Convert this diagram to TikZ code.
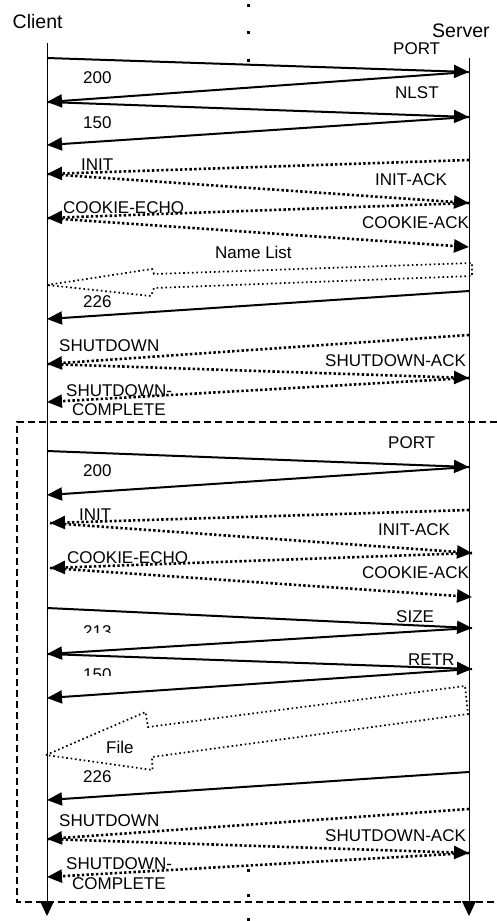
\documentclass[tikz,border=0pt]{standalone}
\usepackage{fontspec}
\setmainfont{Liberation Sans}
\usetikzlibrary{arrows.meta}
\begin{document}
\begin{tikzpicture}[x=1bp,y=-1bp,
  msg/.style={line width=2bp,-{Triangle[length=15bp,width=13bp]}},
  dmsg/.style={msg,line width=2.6bp,dash pattern=on 2.4bp off 2.3bp},
  life/.style={line width=1bp,-{Triangle[length=15bp,width=14bp]}},
  blk/.style={line width=1.7bp,dash pattern=on 1.6bp off 2.8bp},
  boxline/.style={line width=1.3bp,dash pattern=on 7bp off 4bp},
  lbl/.style={font=\fontsize{17bp}{20bp}\selectfont,inner sep=0,anchor=base west},
  hdr/.style={font=\fontsize{19.5bp}{22bp}\selectfont,inner sep=0,anchor=base west}]
\useasboundingbox (0,0) rectangle (497,921);

% headers
\node[hdr] (client) at (12.5,28) {Client};
\node[hdr] (server) at (432,37) {Server};

% lifelines
\coordinate (cTop) at (47,43);
\coordinate (cBot) at (47,916);
\coordinate (sTop) at (469,58);
\coordinate (sBot) at (469,916);
\draw[life] (cTop) -- (cBot);
\draw[life] (sTop) -- (sBot);

% dots
\foreach \yy in {5,32,60,870,895,919} \fill (246.5,\yy-1.5) rectangle ++(3,3);

% dashed box
\coordinate (bx1) at (497,422);
\coordinate (bx2) at (17,422);
\coordinate (bx3) at (17,902);
\coordinate (bx4) at (497,902);
\draw[boxline] (bx1) -- (bx2) -- (bx3) -- (bx4);

% ---------- section 1 ----------
\coordinate (p1) at (47,58);
\coordinate (p2) at (469,72);
\coordinate (p3) at (47,102);
\coordinate (p4) at (469,117);
\coordinate (p5) at (47,145);
\draw[msg] (p1) -- (p2);
\draw[msg] (p2) -- (p3);
\draw[msg] (p3) -- (p4);
\draw[msg] (p4) -- (p5);

\coordinate (q1) at (469,160);
\coordinate (q2) at (47,174);
\coordinate (q3) at (469,203);
\coordinate (q4) at (47,218);
\coordinate (q5) at (469,247);
\draw[dmsg] (q1) -- (q2);
\draw[dmsg] (q2) -- (q3);
\draw[dmsg] (q3) -- (q4);
\draw[dmsg] (q4) -- (q5);

\draw[blk] (47,285) -- (152,269) -- (154,274) -- (472,263) -- (472,276) -- (154,288) -- (151,296) -- cycle;

\coordinate (r1) at (469,291);
\coordinate (r2) at (47,319);
\draw[msg] (r1) -- (r2);

\coordinate (t1) at (469,335);
\coordinate (t2) at (47,364);
\coordinate (t3) at (469,378);
\coordinate (t4) at (47,402);
\draw[dmsg] (t1) -- (t2);
\draw[dmsg] (t2) -- (t3);
\draw[dmsg] (t3) -- (t4);

\node[lbl] (l1) at (393,54) {PORT};
\node[lbl] (l2) at (83,83) {200};
\node[lbl] (l3) at (395,98) {NLST};
\node[lbl] (l4) at (83,128) {150};
\node[lbl] (l5) at (81,170) {INIT};
\node[lbl] (l6) at (375,185) {INIT-ACK};
\node[lbl] (l7) at (63,213) {COOKIE-ECHO};
\node[lbl] (l8) at (362,228) {COOKIE-ACK};
\node[lbl] (l9) at (215,258) {Name List};
\node[lbl] (l10) at (83,307) {226};
\node[lbl] (l11) at (59,351) {SHUTDOWN};
\node[lbl] (l12) at (325,366) {SHUTDOWN-ACK};
\node[lbl] (l13) at (66,396) {SHUTDOWN-};
\node[lbl] (l14) at (72,415) {COMPLETE};

% ---------- section 2 ----------
\coordinate (u1) at (47,451);
\coordinate (u2) at (469,467);
\coordinate (u3) at (47,495);
\draw[msg] (u1) -- (u2);
\draw[msg] (u2) -- (u3);

\coordinate (v1) at (469,510);
\coordinate (v2) at (50,523);
\coordinate (v3) at (472,553);
\coordinate (v4) at (50,568);
\coordinate (v5) at (472,597);
\draw[dmsg] (v1) -- (v2);
\draw[dmsg] (v2) -- (v3);
\draw[dmsg] (v3) -- (v4);
\draw[dmsg] (v4) -- (v5);

\coordinate (w1) at (47,608);
\coordinate (w2) at (472,628);
\coordinate (w3) at (47,654);
\coordinate (w4) at (472,669);
\coordinate (w5) at (47,698);
\draw[msg] (w1) -- (w2);
\draw[msg] (w2) -- (w3);
\draw[msg] (w3) -- (w4);
\draw[msg] (w4) -- (w5);

\draw[blk] (46,755) -- (145.5,712) -- (148,727) -- (465,686) -- (468,714) -- (152,757) -- (152.5,770) -- cycle;

\coordinate (x1) at (469,772);
\coordinate (x2) at (47,800);
\draw[msg] (x1) -- (x2);

\coordinate (y1) at (469,809);
\coordinate (y2) at (47,839);
\coordinate (y3) at (469,853);
\coordinate (y4) at (47,877);
\draw[dmsg] (y1) -- (y2);
\draw[dmsg] (y2) -- (y3);
\draw[dmsg] (y3) -- (y4);

\node[lbl] (m1) at (388,448) {PORT};
\node[lbl] (m2) at (83,476) {200};
\node[lbl] (m3) at (79,520) {INIT};
\node[lbl] (m4) at (378,535) {INIT-ACK};
\node[lbl] (m5) at (67,563) {COOKIE-ECHO};
\node[lbl] (m6) at (362,578) {COOKIE-ACK};
\node[lbl] (m7) at (396,622) {SIZE};
\begin{scope}
  \clip (78,615) rectangle (120,632);
  \node[lbl] (m8) at (83,637) {213};
\end{scope}
\node[lbl] (m9) at (408,665) {RETR};
\begin{scope}
  \clip (78,658) rectangle (120,675);
  \node[lbl] (m10) at (83,680) {150};
\end{scope}
\node[lbl] (m11) at (106,753) {File};
\node[lbl] (m12) at (83,782) {226};
\node[lbl] (m13) at (59,826) {SHUTDOWN};
\node[lbl] (m14) at (325,841) {SHUTDOWN-ACK};
\node[lbl] (m15) at (66,869) {SHUTDOWN-};
\node[lbl] (m16) at (72,889) {COMPLETE};
\end{tikzpicture}
\end{document}
